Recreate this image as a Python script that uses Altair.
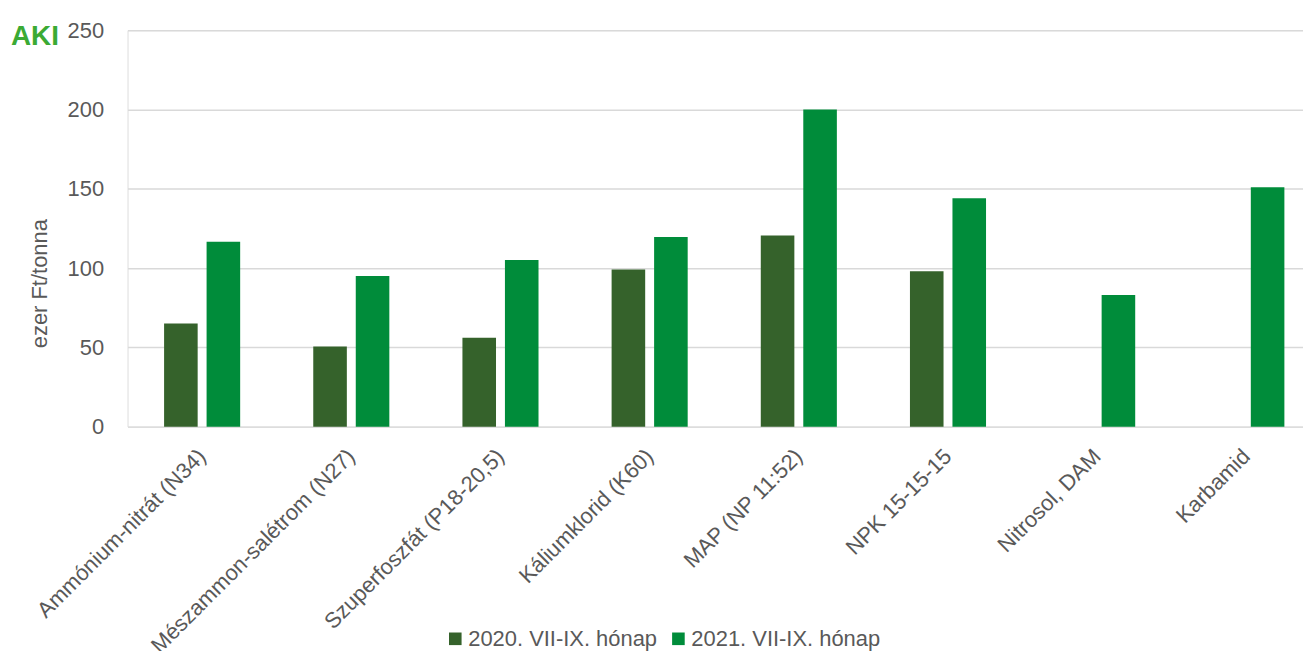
import altair as alt
import pandas as pd

categories = [
    "Ammónium-nitrát (N34)",
    "Mészammon-salétrom (N27)",
    "Szuperfoszfát (P18-20,5)",
    "Káliumklorid (K60)",
    "MAP (NP 11:52)",
    "NPK 15-15-15",
    "Nitrosol, DAM",
    "Karbamid",
]
series = ["2020. VII-IX. hónap", "2021. VII-IX. hónap"]
values_2020 = [65, 50.5, 56, 99, 120.5, 98, None, None]
values_2021 = [116.5, 95, 105, 119.5, 200, 144, 83, 151]
colors = ["#35622B", "#008C3A"]
y_ticks = [0, 50, 100, 150, 200, 250]

rows = []
for c, a, b in zip(categories, values_2020, values_2021):
    if a is not None:
        rows.append({"cat": c, "series": series[0], "value": a})
    if b is not None:
        rows.append({"cat": c, "series": series[1], "value": b})
df = pd.DataFrame(rows)

FONT = "Liberation Sans"
GRAY = "#595959"

bars = alt.Chart(df).mark_bar().encode(
    x=alt.X(
        "cat:N",
        sort=categories,
        scale=alt.Scale(range=[0, 1198], paddingInner=0.49, paddingOuter=0.245),
        axis=alt.Axis(
            title=None,
            labelAngle=315,
            labelAlign="right",
            labelBaseline="middle",
            labelPadding=26,
            labelFontSize=22,
            labelColor=GRAY,
            labelFont=FONT,
            domain=False,
            ticks=False,
            labelLimit=400,
        ),
    ),
    xOffset=alt.XOffset(
        "series:N",
        sort=series,
        scale=alt.Scale(domain=series, paddingInner=0.21, paddingOuter=0),
    ),
    y=alt.Y(
        "value:Q",
        scale=alt.Scale(domain=[0, 250], nice=False),
        axis=alt.Axis(
            values=y_ticks,
            title="ezer Ft/tonna",
            titleFont=FONT,
            titleFontSize=22,
            titleFontWeight="normal",
            titleColor=GRAY,
            titleX=-88,
            titleY=254,
            titleBaseline="middle",
            titleAlign="center",
            labelFont=FONT,
            labelFontSize=22,
            labelColor=GRAY,
            labelPadding=24,
            domain=False,
            ticks=False,
            gridColor="#D9D9D9",
            gridWidth=1.5,
        ),
    ),
    color=alt.Color(
        "series:N",
        sort=series,
        scale=alt.Scale(domain=series, range=colors),
        legend=alt.Legend(
            title=None,
            orient="none",
            direction="horizontal",
            legendX=318,
            legendY=600,
            symbolType="square",
            symbolSize=160,
            symbolStrokeWidth=0,
            labelFont=FONT,
            labelFontSize=22,
            labelColor=GRAY,
            labelOffset=2,
            labelLimit=400,
            columnPadding=10,
        ),
    ),
)

logo = alt.Chart(pd.DataFrame({"t": ["AKI"]})).mark_text(
    font=FONT,
    fontSize=28,
    fontWeight="bold",
    color="#3BAA34",
    align="center",
    baseline="alphabetic",
).encode(x=alt.value(-93), y=alt.value(15), text="t:N")

chart = alt.layer(bars, logo).properties(
    width=1180,
    height=398,
    padding={"left": 120, "top": 21, "right": 0, "bottom": 224},
    autosize=alt.AutoSizeParams(type="none"),
).configure_view(stroke=None).configure(background="white")

chart.save("out.html", embed_options={"renderer": "svg", "actions": False})
